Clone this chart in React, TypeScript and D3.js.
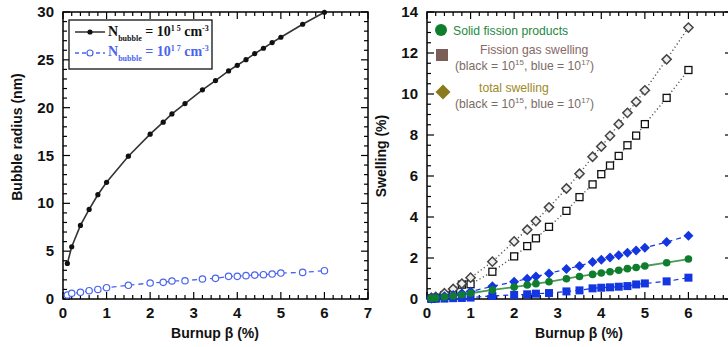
import React from "react";
import * as d3 from "d3";

const burnup = [0.1, 0.2, 0.4, 0.6, 0.8, 1.0, 1.5, 2.0, 2.3, 2.5, 2.8, 3.2, 3.5, 3.8, 4.0, 4.2, 4.4, 4.6, 4.8, 5.0, 5.5, 6.0];

// Left panel: bubble radius (nm)
const radius1e15 = [3.72, 5.46, 7.69, 9.36, 10.9, 12.2, 14.93, 17.23, 18.48, 19.35, 20.43, 21.86, 22.83, 23.84, 24.43, 25.02, 25.65, 26.21, 26.8, 27.36, 28.72, 29.97];
const radius1e17 = [0.42, 0.6, 0.7, 0.87, 1.0, 1.18, 1.43, 1.67, 1.74, 1.88, 1.91, 2.09, 2.16, 2.37, 2.37, 2.44, 2.5, 2.54, 2.61, 2.71, 2.78, 2.96];

// Right panel: swelling (%)
const totalBlack = [0.06, 0.1, 0.28, 0.49, 0.75, 1.04, 1.82, 2.81, 3.38, 3.8, 4.47, 5.39, 6.11, 6.94, 7.44, 7.96, 8.53, 9.08, 9.62, 10.18, 11.69, 13.24];
const gasBlack = [0.03, 0.06, 0.19, 0.34, 0.7, 0.72, 1.33, 2.08, 2.58, 2.96, 3.52, 4.3, 4.97, 5.59, 6.09, 6.51, 6.98, 7.5, 7.97, 8.53, 9.81, 11.17];
const totalBlue = [0.03, 0.06, 0.13, 0.2, 0.28, 0.36, 0.62, 0.84, 0.99, 1.1, 1.25, 1.46, 1.61, 1.8, 1.92, 2.03, 2.13, 2.26, 2.37, 2.5, 2.78, 3.09];
const solidFP = [0.03, 0.05, 0.1, 0.15, 0.21, 0.28, 0.44, 0.58, 0.68, 0.75, 0.84, 0.99, 1.1, 1.2, 1.27, 1.33, 1.4, 1.48, 1.54, 1.61, 1.77, 1.95];
const gasBlue = [0.0, 0.01, 0.02, 0.04, 0.05, 0.07, 0.15, 0.2, 0.23, 0.26, 0.29, 0.37, 0.42, 0.52, 0.55, 0.57, 0.6, 0.63, 0.71, 0.76, 0.86, 1.04];

const xTicksLeft = [0, 1, 2, 3, 4, 5, 6, 7];
const xTicksRight = [0, 1, 2, 3, 4, 5, 6];
const yTicksLeft = [0, 5, 10, 15, 20, 25, 30];
const yTicksRight = [0, 2, 4, 6, 8, 10, 12, 14];

const AX = "'Liberation Sans', Arial, Helvetica, sans-serif";
const TM = "'Liberation Serif', 'Times New Roman', serif";

type Pt = [number, number];

function Frame({ x, y, xMinorStep, yMinorStep, xTicks, yTicks, yMax }: any) {
  const [x0, x1] = x.range();
  const [y0, y1] = y.range();
  const els: any[] = [];
  const xMinor = d3.range(0, 7 + 1e-9, xMinorStep);
  xMinor.forEach((v: number, i: number) => {
    const major = Math.abs(v - Math.round(v)) < 1e-6;
    const L = major ? 7 : 4;
    const px = x(v);
    els.push(<line key={"xb" + i} x1={px} x2={px} y1={y0} y2={y0 - L} stroke="#000" strokeWidth={1.2} />);
    els.push(<line key={"xt" + i} x1={px} x2={px} y1={y1} y2={y1 + L} stroke="#000" strokeWidth={1.2} />);
  });
  const yMinor = d3.range(0, yMax + 1e-9, yMinorStep);
  yMinor.forEach((v: number, i: number) => {
    const major = yTicks.some((t: number) => Math.abs(t - v) < 1e-6);
    const L = major ? 7 : 4;
    const py = y(v);
    els.push(<line key={"yl" + i} x1={x0} x2={x0 + L} y1={py} y2={py} stroke="#000" strokeWidth={1.2} />);
    els.push(<line key={"yr" + i} x1={x1} x2={x1 - L} y1={py} y2={py} stroke="#000" strokeWidth={1.2} />);
  });
  return (
    <g>
      {els}
      <rect x={x0} y={y1} width={x1 - x0} height={y0 - y1} fill="none" stroke="#000" strokeWidth={1.5} />
      {xTicks.map((t: number) => (
        <text key={"xl" + t} x={x(t)} y={y0 + 19} textAnchor="middle" fontFamily={AX} fontWeight="bold" fontSize={15} fill="#111">{t}</text>
      ))}
      {yTicks.map((t: number) => (
        <text key={"ylab" + t} x={x0 - 9} y={y(t) + 5} textAnchor="end" fontFamily={AX} fontWeight="bold" fontSize={15} fill="#111">{t}</text>
      ))}
    </g>
  );
}

function diamond(cx: number, cy: number, r: number) {
  return `M${cx},${cy - r}L${cx + r},${cy}L${cx},${cy + r}L${cx - r},${cy}Z`;
}

export default function App() {
  const xL = d3.scaleLinear().domain([0, 7]).range([63, 368]);
  const yL = d3.scaleLinear().domain([0, 30]).range([299, 12]);
  const xR = d3.scaleLinear().domain([0, 7]).range([427, 732]);
  const yR = d3.scaleLinear().domain([0, 14]).range([299, 12]);

  const lineL = d3.line<Pt>().x((d) => xL(d[0])).y((d) => yL(d[1]));
  const lineR = d3.line<Pt>().x((d) => xR(d[0])).y((d) => yR(d[1]));
  const pts = (ys: number[]): Pt[] => burnup.map((b, i) => [b, ys[i]] as Pt);

  const p15 = pts(radius1e15);
  const p17 = pts(radius1e17);
  const tB = pts(totalBlack);
  const gB = pts(gasBlack);
  const tBl = pts(totalBlue);
  const sF = pts(solidFP);
  const gBl = pts(gasBlue);

  const blueL = "#4a64ee";
  const blueR = "#1436e0";
  const green = "#0f7d2e";

  return (
    <svg width={728} height={347} style={{ position: "absolute", left: 0, top: 0, background: "#fff" }}>
      <rect x={0} y={0} width={728} height={347} fill="#fff" />
      {/* LEFT PANEL */}
      <Frame x={xL} y={yL} xMinorStep={0.2} yMinorStep={1} xTicks={xTicksLeft} yTicks={yTicksLeft} yMax={30} />
      <path d={lineL(p17) || ""} fill="none" stroke={blueL} strokeWidth={1.3} strokeDasharray="5,4" />
      {p17.map((d, i) => (
        <circle key={"b17" + i} cx={xL(d[0])} cy={yL(d[1])} r={3.2} fill="#fff" stroke={blueL} strokeWidth={1.2} />
      ))}
      <path d={lineL(p15) || ""} fill="none" stroke="#333" strokeWidth={1.6} />
      {p15.map((d, i) => (
        <circle key={"b15" + i} cx={xL(d[0])} cy={yL(d[1])} r={2.6} fill="#111" />
      ))}
      {/* left legend */}
      <rect x={69} y={20} width={143} height={49} fill="#fff" stroke="#111" strokeWidth={1.3} />
      <line x1={75} x2={105} y1={32} y2={32} stroke="#222" strokeWidth={1.4} />
      <circle cx={90} cy={32} r={2.6} fill="#111" />
      <line x1={75} x2={105} y1={53} y2={53} stroke={blueL} strokeWidth={1.3} strokeDasharray="4,3" />
      <circle cx={90} cy={53} r={3} fill="#fff" stroke={blueL} strokeWidth={1.2} />
      <text x={108} y={36} fontFamily={TM} fontWeight="bold" fontSize={14} fill="#111">
        N<tspan fontSize={8} dy={5}>bubble</tspan>
        <tspan dy={-5}> = 10</tspan>
        <tspan fontSize={8} dy={-5}>1 5</tspan>
        <tspan dy={5}> cm</tspan>
        <tspan fontSize={8} dy={-5}>-3</tspan>
      </text>
      <text x={108} y={56} fontFamily={TM} fontWeight="bold" fontSize={14} fill={blueL}>
        N<tspan fontSize={8} dy={5}>bubble</tspan>
        <tspan dy={-5}> = 10</tspan>
        <tspan fontSize={8} dy={-5}>1 7</tspan>
        <tspan dy={5}> cm</tspan>
        <tspan fontSize={8} dy={-5}>-3</tspan>
      </text>
      <text x={215} y={338} textAnchor="middle" fontFamily={AX} fontWeight="bold" fontSize={14} fill="#111">Burnup β (%)</text>
      <text transform="translate(22,137) rotate(-90)" textAnchor="middle" fontFamily={AX} fontWeight="bold" fontSize={14} fill="#111">Bubble radius (nm)</text>

      {/* RIGHT PANEL */}
      <Frame x={xR} y={yR} xMinorStep={0.2} yMinorStep={0.5} xTicks={xTicksRight} yTicks={yTicksRight} yMax={14} />
      <path d={lineR(tB) || ""} fill="none" stroke="#555" strokeWidth={1.4} strokeDasharray="1.2,2.6" />
      <path d={lineR(gB) || ""} fill="none" stroke="#555" strokeWidth={1.4} strokeDasharray="1.2,2.6" />
      <path d={lineR(gBl) || ""} fill="none" stroke={blueR} strokeWidth={1.2} strokeDasharray="5,4" />
      <path d={lineR(tBl) || ""} fill="none" stroke={blueR} strokeWidth={1.2} strokeDasharray="5,4" />
      <path d={lineR(sF) || ""} fill="none" stroke="#4a9a55" strokeWidth={1.8} />
      {gB.map((d, i) => (
        <rect key={"gb" + i} x={xR(d[0]) - 3.5} y={yR(d[1]) - 3.5} width={7} height={7} fill="#fff" stroke="#111" strokeWidth={1.3} />
      ))}
      {tB.map((d, i) => (
        <path key={"tb" + i} d={diamond(xR(d[0]), yR(d[1]), 4.6)} fill="#eee" stroke="#444" strokeWidth={1.5} />
      ))}
      {gBl.map((d, i) => (
        <rect key={"gbl" + i} x={xR(d[0]) - 4} y={yR(d[1]) - 4} width={8} height={8} fill={blueR} />
      ))}
      {tBl.map((d, i) => (
        <path key={"tbl" + i} d={diamond(xR(d[0]), yR(d[1]), 5)} fill={blueR} />
      ))}
      {sF.map((d, i) => (
        <circle key={"sf" + i} cx={xR(d[0])} cy={yR(d[1])} r={3.8} fill={green} />
      ))}
      {/* right legend */}
      <circle cx={441} cy={30} r={6} fill={green} />
      <text x={453} y={35} fontFamily={AX} fontSize={12.2} fill="#1e8a3e">Solid fission products</text>
      <rect x={436} y={49} width={12} height={12} fill="#7b5e57" />
      <text x={480} y={54} fontFamily={AX} fontSize={12.2} fill="#866864">Fission gas swelling</text>
      <text x={455} y={70} fontFamily={AX} fontSize={12.2} fill="#7a6b66">
        (black = 10<tspan fontSize={8} dy={-5}>15</tspan><tspan dy={5}>, blue = 10</tspan><tspan fontSize={8} dy={-5}>17</tspan><tspan dy={5}>)</tspan>
      </text>
      <path d={diamond(443, 92, 7.5)} fill="#8a7a1e" />
      <text x={479} y={92} fontFamily={AX} fontSize={12.2} fill="#9c8a26">total swelling</text>
      <text x={455} y={108} fontFamily={AX} fontSize={12.2} fill="#7a6b66">
        (black = 10<tspan fontSize={8} dy={-5}>15</tspan><tspan dy={5}>, blue = 10</tspan><tspan fontSize={8} dy={-5}>17</tspan><tspan dy={5}>)</tspan>
      </text>
      <text x={579} y={338} textAnchor="middle" fontFamily={AX} fontWeight="bold" fontSize={14} fill="#111">Burnup β (%)</text>
      <text transform="translate(386,156) rotate(-90)" textAnchor="middle" fontFamily={AX} fontWeight="bold" fontSize={14} fill="#111">Swelling (%)</text>
    </svg>
  );
}
